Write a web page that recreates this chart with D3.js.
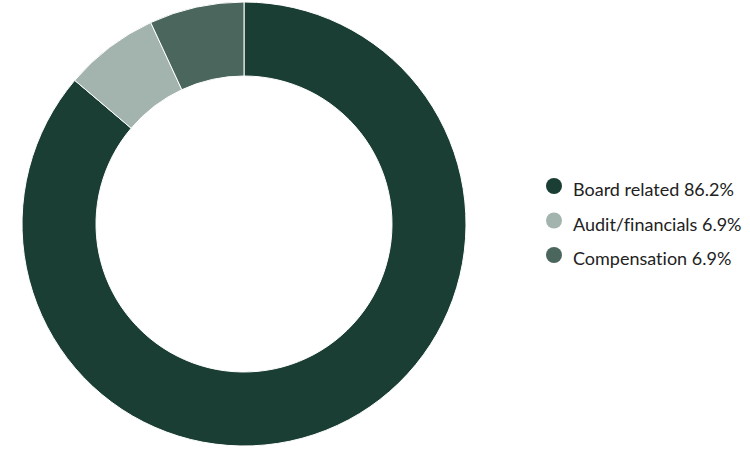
<!DOCTYPE html>
<html>
<head>
<meta charset="utf-8">
<script src="https://cdn.jsdelivr.net/npm/d3@7"></script>
<style>
  body { margin: 0; background: #fff; }
  svg text { font-family: Lato, "Open Sans", sans-serif; font-variant-ligatures: none; }
</style>
</head>
<body>
<div id="chart"></div>
<script>
// chart data
const categories = ["Board related", "Audit/financials", "Compensation"];
const values = [86.2, 6.9, 6.9];
const colors = ["#1a3d34", "#a3b3ae", "#4a665d"];

const width = 750, height = 450;

const svg = d3.select("#chart").append("svg")
    .attr("width", width)
    .attr("height", height);

const displayData = categories.map((c, i) => ({ name: c, value: values[i], color: colors[i] }));

// donut
const pie = d3.pie().value(d => d.value).sort(null);
const arc = d3.arc().innerRadius(148).outerRadius(222);

const g = svg.append("g")
    .attr("transform", "translate(244,224)");

g.selectAll(".arc")
    .data(pie(displayData))
    .enter()
    .append("path")
    .attr("class", "arc")
    .attr("d", arc)
    .attr("fill", d => d.data.color)
    .attr("stroke", "#fff")
    .attr("stroke-width", 1);

// legend
const legend = svg.append("g")
    .attr("transform", "translate(554,186)");

const rows = legend.selectAll(".row")
    .data(displayData)
    .enter()
    .append("g")
    .attr("class", "row")
    .attr("transform", (d, i) => "translate(0," + (i * 34.5) + ")");

rows.append("circle")
    .attr("r", 8)
    .attr("fill", d => d.color);

rows.append("text")
    .attr("x", 19)
    .attr("y", 10)
    .attr("font-size", 18)
    .attr("fill", "#222")
    .text(d => d.name + " " + d.value.toFixed(1) + "%");
</script>
</body>
</html>
